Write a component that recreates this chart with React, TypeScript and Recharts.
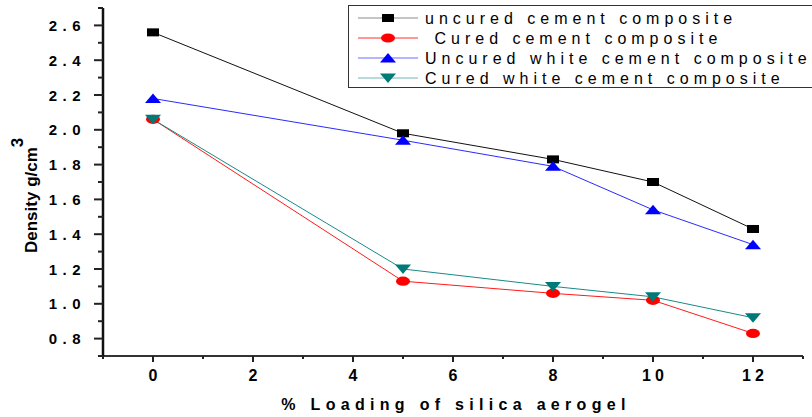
import { Line, LineChart, XAxis, YAxis } from 'recharts'

const loading = [0, 5, 8, 10, 12]
const uncuredCement = [2.56, 1.98, 1.83, 1.7, 1.43]
const curedCement = [2.06, 1.13, 1.06, 1.02, 0.83]
const uncuredWhite = [2.18, 1.94, 1.79, 1.54, 1.34]
const curedWhite = [2.06, 1.2, 1.1, 1.04, 0.92]

const seriesNames = [
  'uncured cement composite',
  ' Cured cement composite',
  'Uncured white cement composite',
  'Cured white cement composite',
]

const xTicks = [-1, 0, 1, 2, 3, 4, 5, 6, 7, 8, 9, 10, 11, 12, 13]
const yTicks = [
  0.7, 0.8, 0.9, 1.0, 1.1, 1.2, 1.3, 1.4, 1.5, 1.6, 1.7, 1.8, 1.9, 2.0, 2.1, 2.2, 2.3, 2.4, 2.5, 2.6, 2.7,
]

const chartData = loading.map((x, i) => ({
  x,
  uncuredCement: uncuredCement[i],
  curedCement: curedCement[i],
  uncuredWhite: uncuredWhite[i],
  curedWhite: curedWhite[i],
}))

const FONT = '"Liberation Sans", Arial, sans-serif'

type MarkerKind = 'square' | 'circle' | 'up' | 'down'

function Marker({ kind, cx, cy, fill }: { kind: MarkerKind; cx: number; cy: number; fill: string }) {
  if (kind === 'square') {
    return <rect x={cx - 6} y={cy - 4} width={12} height={8} fill={fill} />
  }
  if (kind === 'circle') {
    return <ellipse cx={cx} cy={cy} rx={7} ry={4.6} fill={fill} />
  }
  if (kind === 'up') {
    return <polygon points={`${cx - 8},${cy + 4.5} ${cx + 8},${cy + 4.5} ${cx},${cy - 5}`} fill={fill} />
  }
  return <polygon points={`${cx - 8},${cy - 4.5} ${cx + 8},${cy - 4.5} ${cx},${cy + 5}`} fill={fill} />
}

const makeDot = (kind: MarkerKind, fill: string) => (props: any) => {
  const { cx, cy, index } = props
  if (typeof cx !== 'number' || typeof cy !== 'number') return <g key={`e-${index}`} />
  return (
    <g key={`${kind}-${index}`}>
      <Marker kind={kind} cx={cx} cy={cy} fill={fill} />
    </g>
  )
}

const XTick = (props: any) => {
  const { x, y, payload } = props
  const v = payload.value as number
  const major = v >= 0 && v <= 12 && v % 2 === 0
  return (
    <g>
      <line x1={x} x2={x} y1={y} y2={y + (major ? 6 : 3)} stroke="#222" strokeWidth={2} />
      {major && (
        <text
          x={x + (v >= 10 ? 2 : 0)}
          y={y + 25}
          textAnchor="middle"
          fontFamily={FONT}
          fontWeight={700}
          fontSize={16}
          letterSpacing={v >= 10 ? 4 : 0}
          fill="#000"
        >
          {v}
        </text>
      )}
    </g>
  )
}

const YTick = (props: any) => {
  const { x, y, payload } = props
  const v = payload.value as number
  const tenths = Math.round(v * 10)
  const major = tenths % 2 === 0
  return (
    <g>
      <line x1={x - (major ? 9 : 5)} x2={x} y1={y} y2={y} stroke="#222" strokeWidth={2} />
      {major && (
        <text
          x={86}
          y={y + 5.5}
          textAnchor="end"
          fontFamily={FONT}
          fontWeight={700}
          fontSize={15}
          letterSpacing={5.5}
          fill="#000"
        >
          {v.toFixed(1)}
        </text>
      )}
    </g>
  )
}

const XTitle = (props: any) => {
  const { viewBox } = props
  const cx = viewBox.x + viewBox.width / 2
  return (
    <text
      x={cx + 3}
      y={viewBox.y + 54}
      textAnchor="middle"
      fontFamily={FONT}
      fontWeight={700}
      fontSize={16}
      letterSpacing={5.3}
      fill="#000"
    >
      % Loading of silica aerogel
    </text>
  )
}

const YTitle = () => (
  <text
    x={37}
    y={253}
    transform="rotate(-90 37 253)"
    fontFamily={FONT}
    fontWeight={700}
    fontSize={17}
    fill="#000"
  >
    Density g/cm
    <tspan dy={-14}>3</tspan>
  </text>
)

const legendItems: { name: string; kind: MarkerKind; line: string; fill: string }[] = [
  { name: seriesNames[0], kind: 'square', line: '#8a8a8a', fill: '#000' },
  { name: seriesNames[1], kind: 'circle', line: '#ff3030', fill: '#ff0000' },
  { name: seriesNames[2], kind: 'up', line: '#6a6aff', fill: '#0000ff' },
  { name: seriesNames[3], kind: 'down', line: '#70b8b8', fill: '#007a78' },
]

export default function App() {
  return (
    <div style={{ position: 'absolute', left: 0, top: 0, width: 812, height: 417, background: '#fff' }}>
      <LineChart width={812} height={417} data={chartData} margin={{ top: 8, right: 9, left: 0, bottom: 0 }}>
        <XAxis
          dataKey="x"
          type="number"
          domain={[-1, 13]}
          ticks={xTicks}
          interval={0}
          height={61}
          tickSize={0}
          tickMargin={0}
          tick={<XTick />}
          axisLine={{ stroke: '#333', strokeWidth: 2 }}
          tickLine={false}
          label={{ content: <XTitle /> }}
        />
        <YAxis
          type="number"
          domain={[0.7, 2.7]}
          ticks={yTicks}
          interval={0}
          width={103}
          tickSize={0}
          tickMargin={0}
          tick={<YTick />}
          axisLine={{ stroke: '#111', strokeWidth: 2.5 }}
          tickLine={false}
          label={{ content: <YTitle /> }}
        />
        <Line
          dataKey="uncuredCement"
          name={seriesNames[0]}
          stroke="#111"
          strokeWidth={1}
          dot={makeDot('square', '#000')}
          activeDot={false}
          isAnimationActive={false}
        />
        <Line
          dataKey="uncuredWhite"
          name={seriesNames[2]}
          stroke="#2a2aff"
          strokeWidth={1}
          dot={makeDot('up', '#0000ff')}
          activeDot={false}
          isAnimationActive={false}
        />
        <Line
          dataKey="curedCement"
          name={seriesNames[1]}
          stroke="#ff1a1a"
          strokeWidth={1}
          dot={makeDot('circle', '#ff0000')}
          activeDot={false}
          isAnimationActive={false}
        />
        <Line
          dataKey="curedWhite"
          name={seriesNames[3]}
          stroke="#188a88"
          strokeWidth={1}
          dot={makeDot('down', '#007a78')}
          activeDot={false}
          isAnimationActive={false}
        />
      </LineChart>
      <svg
        width={812}
        height={100}
        style={{ position: 'absolute', left: 0, top: 0, pointerEvents: 'none' }}
      >
        <rect x={348.5} y={5.5} width={480} height={82} fill="#fff" stroke="#333" strokeWidth={1} />
        {legendItems.map((item, i) => {
          const cy = 18 + i * 20
          return (
            <g key={item.name}>
              <line x1={358} x2={418} y1={cy} y2={cy} stroke={item.line} strokeWidth={1} />
              <Marker kind={item.kind} cx={388} cy={cy} fill={item.fill} />
              <text
                x={425}
                y={cy + 6}
                fontFamily={FONT}
                fontSize={16}
                letterSpacing={5}
                fill="#000"
                style={{ whiteSpace: 'pre' }}
              >
                {item.name}
              </text>
            </g>
          )
        })}
      </svg>
    </div>
  )
}
